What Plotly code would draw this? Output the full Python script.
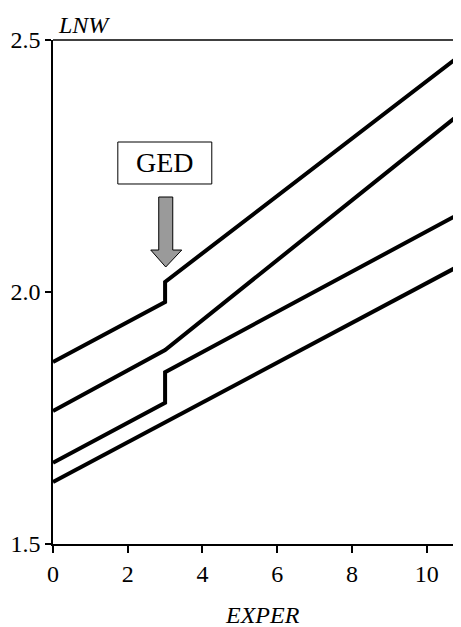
import plotly.graph_objects as go

# Data (EXPER vs LNW)
exper_jump = [0, 3, 3, 11]
lnw_top = [1.861, 1.980, 2.020, 2.475]      # top line, GED jump at 3
exper_kink = [0, 3, 11]
lnw_second = [1.764, 1.885, 2.360]          # kink at 3
lnw_third = [1.661, 1.780, 1.841, 2.160]    # GED jump at 3
exper_straight = [0, 11]
lnw_bottom = [1.623, 2.057]

x_ticks = [0, 2, 4, 6, 8, 10]
y_ticks = [1.5, 2.0, 2.5]
y_tick_labels = ["1.5", "2.0", "2.5"]

FONT = "Liberation Serif, Times New Roman, Tinos, serif"
line_style = dict(color="black", width=4)

fig = go.Figure()
fig.add_trace(go.Scatter(x=exper_jump, y=lnw_top, mode="lines", line=line_style))
fig.add_trace(go.Scatter(x=exper_kink, y=lnw_second, mode="lines", line=line_style))
fig.add_trace(go.Scatter(x=exper_jump, y=lnw_third, mode="lines", line=line_style))
fig.add_trace(go.Scatter(x=exper_straight, y=lnw_bottom, mode="lines", line=line_style))

# GED box + arrow
fig.add_shape(type="rect", xref="x", yref="y", x0=1.735, x1=4.25, y0=2.2143, y1=2.2976,
              line=dict(color="black", width=1), fillcolor="white")
fig.add_annotation(x=2.99, y=2.256, xref="x", yref="y", text="GED", showarrow=False,
                   font=dict(family=FONT, size=28, color="black"))
fig.add_shape(type="path", xref="x", yref="y",
              path="M 2.830,2.1885 L 3.205,2.1885 L 3.205,2.0833 L 3.446,2.0833 "
                   "L 3.017,2.0496 L 2.616,2.0833 L 2.830,2.0833 Z",
              line=dict(color="black", width=1), fillcolor="#9a9a9a")

# top border line
fig.add_shape(type="line", xref="paper", yref="paper", x0=0, x1=1, y0=1, y1=1,
              line=dict(color="black", width=1.5))

fig.add_annotation(xref="paper", yref="paper", x=0, y=1, xanchor="left", yanchor="bottom",
                   xshift=3, yshift=0, text="<i>LNW</i>", showarrow=False,
                   font=dict(family=FONT, size=24, color="black"))
fig.add_annotation(xref="paper", yref="paper", x=0.5147, y=0, xanchor="center",
                   yanchor="middle", yshift=-71, text="<i>EXPER</i>", showarrow=False,
                   font=dict(family=FONT, size=24, color="black"))

# page body has an 8px default margin: size the figure to fill the rest
fig.update_layout(
    width=453, height=619,
    margin=dict(l=45, r=0, t=32, b=83),
    paper_bgcolor="white", plot_bgcolor="white",
    showlegend=False,
    font=dict(family=FONT, size=24, color="black"),
)
fig.update_xaxes(range=[0, 10.92], tickvals=x_ticks, ticks="outside", ticklen=7,
                 tickcolor="black", tickwidth=1.5, showline=True, linecolor="black",
                 linewidth=1.5, showgrid=False, zeroline=False,
                 tickfont=dict(family=FONT, size=24, color="black"))
fig.update_yaxes(range=[1.5, 2.5], tickvals=y_ticks, ticktext=y_tick_labels,
                 ticks="outside", ticklen=6, tickcolor="black", tickwidth=1.5,
                 showline=True, linecolor="black", linewidth=1.5, showgrid=False,
                 zeroline=False, tickfont=dict(family=FONT, size=24, color="black"))

fig.write_html("out.html")
